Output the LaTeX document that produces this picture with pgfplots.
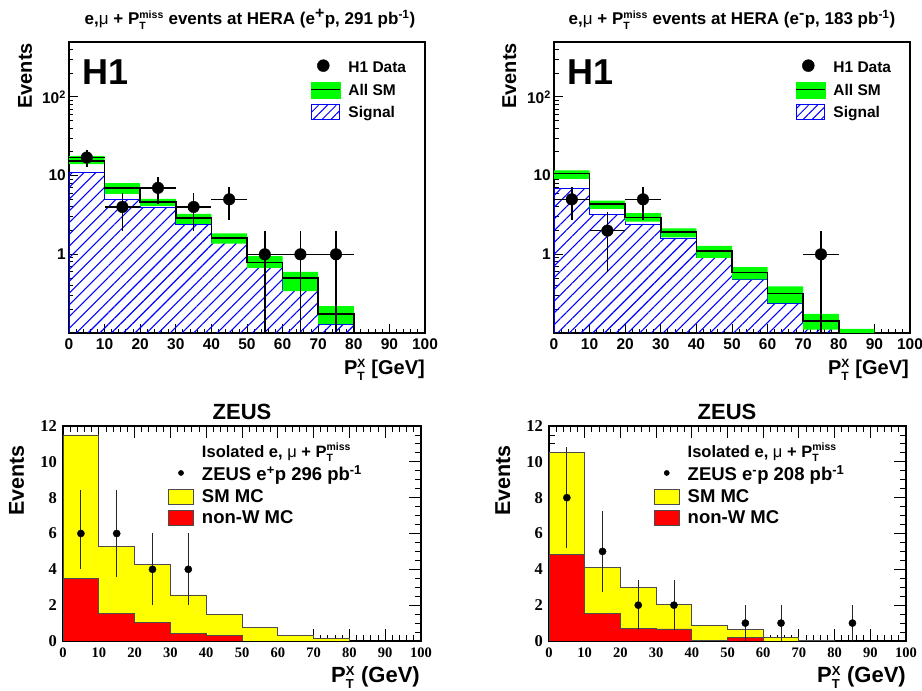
\documentclass[border=0pt]{standalone}
\usepackage{pgfplots}
\pgfplotsset{compat=1.18}
\usetikzlibrary{patterns.meta}
\usepackage{fontspec}
\setmainfont{Liberation Sans}
\newfontfamily\timesb{Liberation Serif}
\definecolor{hgreen}{RGB}{0,255,0}
\definecolor{zyellow}{RGB}{255,255,0}
\definecolor{zred}{RGB}{255,0,0}
\newcommand\fsz[1]{\fontsize{#1}{#1}\selectfont}
\newcommand\ms[3]{$^{\mbox{\fsz{#1}\bfseries #2}}_{\mbox{\fsz{#1}\bfseries #3}}$}
\begin{document}
\begin{tikzpicture}
\useasboundingbox (0,0) rectangle (922pt,691pt);
% ---------------- H1 e+p ----------------
\begin{axis}[scale only axis, width=356pt, height=291pt, anchor=south west, at={(69pt,358pt)},
    ymode=log, xmin=0, xmax=100, ymin=0.1, ymax=500,
    axis line style={line width=1.6pt},
    xtick={0,10,...,100}, minor x tick num=4,
    ytick={1,10,100}, yticklabels={1,10,10\textsuperscript{2}},
    minor ytick={0.2,0.3,0.4,0.5,0.6,0.7,0.8,0.9,2,3,4,5,6,7,8,9,20,30,40,50,60,70,80,90,200,300,400},
    xtick pos=bottom, ytick pos=left, tick align=inside,
    major tick length=9pt, minor tick length=4.5pt,
    tick style={black, line width=1pt},
    tick label style={font=\fsz{15.5}\bfseries},
    xticklabel style={inner sep=0pt, yshift=-5pt},
    yticklabel style={inner sep=0pt, xshift=-3pt},
    /pgf/number format/assume math mode=true,
    legend cell align=left,
    legend style={draw=none, fill=none, inner sep=0pt, anchor=north west,
      at={(axis description cs:0.677,0.9426)}, row sep=4.6pt, column sep=6pt,
      font=\fsz{15.5}\bfseries}]
\addplot[draw=blue, line width=1pt, pattern={Lines[angle=45,distance=8.3pt,line width=1.1pt]}, pattern color=blue, forget plot] coordinates {(0,0.01)(0,11.1)(10,11.1)(10,5.0)(20,5.0)(20,3.9)(30,3.9)(30,2.4)(40,2.4)(40,1.41)(50,1.41)(50,0.71)(60,0.71)(60,0.36)(70,0.36)(70,0.13)(80,0.13)(80,0.01)} -- cycle;
\addplot[fill=hgreen, draw=none, forget plot] coordinates {(0,17.9)(10,17.9)(10,8.06)(20,8.06)(20,5.07)(30,5.07)(30,3.26)(40,3.26)(40,1.84)(50,1.84)(50,0.95)(60,0.95)(60,0.6)(70,0.6)(70,0.22)(80,0.22)
 (80,0.13)(70,0.13)(70,0.34)(60,0.34)(60,0.675)(50,0.675)(50,1.37)(40,1.37)(40,2.43)(30,2.43)(30,4.09)(20,4.09)(20,5.88)(10,5.88)(10,14.0)(0,14.0)} -- cycle;
\addplot[black, line width=1.6pt, forget plot] coordinates {(0,15.4)(10,15.4)(10,6.95)(20,6.95)(20,4.6)(30,4.6)(30,2.9)(40,2.9)(40,1.6)(50,1.6)(50,0.79)(60,0.79)(60,0.5)(70,0.5)(70,0.174)(80,0.174)(80,0.01)};
\addplot[only marks, mark=*, mark size=5.8pt, black, forget plot,
    error bars/.cd, x dir=both, x explicit, y dir=both, y explicit,
    error bar style={line width=1.6pt, black}, error mark=none] coordinates {(5,17) +- (5,4.12) (15,4) +- (5,2) (25,7) +- (5,2.65) (35,4) +- (5,2) (45,5) +- (5,2.24)
 (55,1) += (5,1) -= (5,0.999) (65,1) += (5,1) -= (5,0.999) (75,1) += (5,1) -= (5,0.999)};
\addlegendimage{legend image code/.code={\path[draw=none, fill=none] (0pt,-8pt) rectangle (29pt,8pt); \fill[black] (12.5pt,2pt) circle (6pt);}}
\addlegendentry{\rule[-5pt]{0pt}{17pt}H1 Data}
\addlegendimage{legend image code/.code={\fill[hgreen] (0pt,-8pt) rectangle (29pt,8pt); \draw[black, line width=1.2pt] (0pt,0pt) -- (29pt,0pt);}}
\addlegendentry{\rule[-5pt]{0pt}{17pt}All SM}
\addlegendimage{legend image code/.code={\draw[blue, line width=1pt, pattern={Lines[angle=45,distance=6.3pt,line width=1pt]}, pattern color=blue] (0.5pt,-7.5pt) rectangle (28.5pt,7.5pt);}}
\addlegendentry{\rule[-5pt]{0pt}{17pt}Signal}
\end{axis}
% ---------------- H1 e-p ----------------
\begin{axis}[scale only axis, width=356pt, height=291pt, anchor=south west, at={(554pt,358pt)},
    ymode=log, xmin=0, xmax=100, ymin=0.1, ymax=500,
    axis line style={line width=1.6pt},
    xtick={0,10,...,100}, minor x tick num=4,
    ytick={1,10,100}, yticklabels={1,10,10\textsuperscript{2}},
    minor ytick={0.2,0.3,0.4,0.5,0.6,0.7,0.8,0.9,2,3,4,5,6,7,8,9,20,30,40,50,60,70,80,90,200,300,400},
    xtick pos=bottom, ytick pos=left, tick align=inside,
    major tick length=9pt, minor tick length=4.5pt,
    tick style={black, line width=1pt},
    tick label style={font=\fsz{15.5}\bfseries},
    xticklabel style={inner sep=0pt, yshift=-5pt},
    yticklabel style={inner sep=0pt, xshift=-3pt},
    /pgf/number format/assume math mode=true,
    legend cell align=left,
    legend style={draw=none, fill=none, inner sep=0pt, anchor=north west,
      at={(axis description cs:0.677,0.9426)}, row sep=4.6pt, column sep=6pt,
      font=\fsz{15.5}\bfseries}]
\addplot[draw=blue, line width=1pt, pattern={Lines[angle=45,distance=8.3pt,line width=1.1pt]}, pattern color=blue, forget plot] coordinates {(0,0.01)(0,6.8)(10,6.8)(10,3.2)(20,3.2)(20,2.4)(30,2.4)(30,1.59)(40,1.59)(40,0.92)(50,0.92)(50,0.48)(60,0.48)(60,0.24)(70,0.24)(70,0.115)(80,0.115)(80,0.01)} -- cycle;
\addplot[fill=hgreen, draw=none, forget plot] coordinates {(0,11.7)(10,11.7)(10,4.83)(20,4.83)(20,3.33)(30,3.33)(30,2.13)(40,2.13)(40,1.28)(50,1.28)(50,0.69)(60,0.69)(60,0.39)(70,0.39)(70,0.175)(80,0.175)(80,0.113)(90,0.113)
 (90,0.05)(80,0.05)(80,0.11)(70,0.11)(70,0.24)(60,0.24)(60,0.48)(50,0.48)(50,0.9)(40,0.9)(40,1.64)(30,1.64)(30,2.6)(20,2.6)(20,3.78)(10,3.78)(10,9.1)(0,9.1)} -- cycle;
\addplot[black, line width=1.6pt, forget plot] coordinates {(0,10.6)(10,10.6)(10,4.37)(20,4.37)(20,2.95)(30,2.95)(30,1.93)(40,1.93)(40,1.1)(50,1.1)(50,0.59)(60,0.59)(60,0.316)(70,0.316)(70,0.143)(80,0.143)(80,0.09)(90,0.09)(90,0.01)};
\addplot[only marks, mark=*, mark size=5.8pt, black, forget plot,
    error bars/.cd, x dir=both, x explicit, y dir=both, y explicit,
    error bar style={line width=1.6pt, black}, error mark=none] coordinates {(5,5) +- (5,2.24) (15,2) +- (5,1.41) (25,5) +- (5,2.24) (75,1) += (5,1) -= (5,0.999)};
\addlegendimage{legend image code/.code={\path[draw=none, fill=none] (0pt,-8pt) rectangle (29pt,8pt); \fill[black] (12.5pt,2pt) circle (6pt);}}
\addlegendentry{\rule[-5pt]{0pt}{17pt}H1 Data}
\addlegendimage{legend image code/.code={\fill[hgreen] (0pt,-8pt) rectangle (29pt,8pt); \draw[black, line width=1.2pt] (0pt,0pt) -- (29pt,0pt);}}
\addlegendentry{\rule[-5pt]{0pt}{17pt}All SM}
\addlegendimage{legend image code/.code={\draw[blue, line width=1pt, pattern={Lines[angle=45,distance=6.3pt,line width=1pt]}, pattern color=blue] (0.5pt,-7.5pt) rectangle (28.5pt,7.5pt);}}
\addlegendentry{\rule[-5pt]{0pt}{17pt}Signal}
\end{axis}
% ---------------- ZEUS e+p ----------------
\begin{axis}[scale only axis, width=358pt, height=215pt, anchor=south west, at={(63pt,50pt)},
    xmin=0, xmax=100, ymin=0, ymax=12,
    axis line style={line width=1.5pt},
    xtick={0,10,...,100}, minor x tick num=4,
    ytick={0,2,...,12}, minor y tick num=3,
    tick align=inside,
    tick style={black, line width=0.9pt},
    major tick length=12pt, minor tick length=6pt,
    xticklabel style={inner sep=0pt, yshift=-7pt, font=\timesb\fsz{14.5}\bfseries},
    yticklabel style={inner sep=0pt, xshift=-6pt, font=\timesb\fsz{16.5}\bfseries},
    /pgf/number format/assume math mode=true,
    legend cell align=left,
    legend style={draw=none, fill=none, inner sep=0pt, anchor=north west,
      at={(axis description cs:0.293,0.93)}, row sep=3pt, column sep=6pt,
      font=\fsz{18.5}\bfseries}]
\addplot[fill=zyellow, draw=black!70, line width=0.9pt, forget plot] coordinates {(0,0)(0,11.5)(10,11.5)(10,5.3)(20,5.3)(20,4.28)(30,4.28)(30,2.57)(40,2.57)(40,1.49)(50,1.49)(50,0.74)(60,0.74)(60,0.3)(70,0.3)(70,0.13)(80,0.13)(80,0)} -- cycle;
\addplot[fill=zred, draw=black!70, line width=0.9pt, forget plot] coordinates {(0,0)(0,3.48)(10,3.48)(10,1.55)(20,1.55)(20,1.04)(30,1.04)(30,0.43)(40,0.43)(40,0.32)(50,0.32)(50,0)} -- cycle;
\addplot[only marks, mark=*, mark size=3.6pt, black, forget plot,
    error bars/.cd, y dir=both, y explicit,
    error bar style={line width=0.9pt, black!85}, error mark=none] coordinates {(5,6) += (0,2.45) -= (0,2.0) (15,6) +- (0,2.45) (25,4) +- (0,2) (35,4) +- (0,2)};
\addlegendimage{legend image code/.code={\path[draw=none, fill=none] (0pt,-7.5pt) rectangle (25pt,7.5pt);}}
\addlegendentry{\rule[-5pt]{0pt}{15pt}\fsz{16.5}Isolated e, {\mdseries μ} + P\ms{10.5}{miss}{T}}
\addlegendimage{legend image code/.code={\path[draw=none, fill=none] (0pt,-7.5pt) rectangle (25pt,7.5pt); \fill[black] (12.5pt,1pt) circle (2.6pt);}}
\addlegendentry{\rule[-5pt]{0pt}{15pt}ZEUS e\textsuperscript{+}p 296 pb\textsuperscript{-1}}
\addlegendimage{legend image code/.code={\draw[fill=zyellow, draw=black!70, line width=0.9pt] (0pt,-7.5pt) rectangle (25pt,7.5pt);}}
\addlegendentry{\rule[-5pt]{0pt}{15pt}SM MC}
\addlegendimage{legend image code/.code={\draw[fill=zred, draw=black!70, line width=0.9pt] (0pt,-7.5pt) rectangle (25pt,7.5pt);}}
\addlegendentry{\rule[-5pt]{0pt}{15pt}non-W MC}
\end{axis}
% ---------------- ZEUS e-p ----------------
\begin{axis}[scale only axis, width=357pt, height=215pt, anchor=south west, at={(549pt,50pt)},
    xmin=0, xmax=100, ymin=0, ymax=12,
    axis line style={line width=1.5pt},
    xtick={0,10,...,100}, minor x tick num=4,
    ytick={0,2,...,12}, minor y tick num=3,
    tick align=inside,
    tick style={black, line width=0.9pt},
    major tick length=12pt, minor tick length=6pt,
    xticklabel style={inner sep=0pt, yshift=-7pt, font=\timesb\fsz{14.5}\bfseries},
    yticklabel style={inner sep=0pt, xshift=-6pt, font=\timesb\fsz{16.5}\bfseries},
    /pgf/number format/assume math mode=true,
    legend cell align=left,
    legend style={draw=none, fill=none, inner sep=0pt, anchor=north west,
      at={(axis description cs:0.293,0.93)}, row sep=3pt, column sep=6pt,
      font=\fsz{18.5}\bfseries}]
\addplot[fill=zyellow, draw=black!70, line width=0.9pt, forget plot] coordinates {(0,0)(0,10.53)(10,10.53)(10,4.11)(20,4.11)(20,2.98)(30,2.98)(30,2.06)(40,2.06)(40,0.87)(50,0.87)(50,0.65)(60,0.65)(60,0.2)(70,0.2)(70,0.05)(80,0.05)(80,0)} -- cycle;
\addplot[fill=zred, draw=black!70, line width=0.9pt, forget plot] coordinates {(0,0)(0,4.84)(10,4.84)(10,1.55)(20,1.55)(20,0.71)(30,0.71)(30,0.67)(40,0.67)(40,0.03)(50,0.03)(50,0.2)(60,0.2)(60,0)} -- cycle;
\addplot[only marks, mark=*, mark size=3.6pt, black, forget plot,
    error bars/.cd, y dir=both, y explicit,
    error bar style={line width=0.9pt, black!85}, error mark=none] coordinates {(5,8) +- (0,2.83) (15,5) +- (0,2.24) (25,2) +- (0,1.41) (35,2) +- (0,1.41) (55,1) +- (0,1) (65,1) +- (0,1) (85,1) +- (0,1)};
\addlegendimage{legend image code/.code={\path[draw=none, fill=none] (0pt,-7.5pt) rectangle (25pt,7.5pt);}}
\addlegendentry{\rule[-5pt]{0pt}{15pt}\fsz{16.5}Isolated e, {\mdseries μ} + P\ms{10.5}{miss}{T}}
\addlegendimage{legend image code/.code={\path[draw=none, fill=none] (0pt,-7.5pt) rectangle (25pt,7.5pt); \fill[black] (12.5pt,1pt) circle (2.6pt);}}
\addlegendentry{\rule[-5pt]{0pt}{15pt}ZEUS e\textsuperscript{-}p 208 pb\textsuperscript{-1}}
\addlegendimage{legend image code/.code={\draw[fill=zyellow, draw=black!70, line width=0.9pt] (0pt,-7.5pt) rectangle (25pt,7.5pt);}}
\addlegendentry{\rule[-5pt]{0pt}{15pt}SM MC}
\addlegendimage{legend image code/.code={\draw[fill=zred, draw=black!70, line width=0.9pt] (0pt,-7.5pt) rectangle (25pt,7.5pt);}}
\addlegendentry{\rule[-5pt]{0pt}{15pt}non-W MC}
\end{axis}
% ---------------- texts ----------------
\node[anchor=base, inner sep=0pt, font=\fsz{17}\bfseries] at (250pt,666pt) {e,{\mdseries μ} + P\ms{10.5}{miss}{T} events at HERA (e\textsuperscript{\fsz{16}+}p, 291 pb\textsuperscript{-1})};
\node[anchor=base, inner sep=0pt, font=\fsz{17}\bfseries] at (732pt,666pt) {e,{\mdseries μ} + P\ms{10.5}{miss}{T} events at HERA (e\textsuperscript{\fsz{16}-}p, 183 pb\textsuperscript{-1})};
\node[anchor=base west, inner sep=0pt, font=\fsz{36}\bfseries] at (82pt,606pt) {H1};
\node[anchor=base west, inner sep=0pt, font=\fsz{36}\bfseries] at (567pt,606pt) {H1};
\node[rotate=90, anchor=base east, inner sep=0pt, font=\fsz{20}\bfseries] at (32pt,648pt) {Events};
\node[rotate=90, anchor=base east, inner sep=0pt, font=\fsz{20}\bfseries] at (516pt,648pt) {Events};
\node[anchor=base east, inner sep=0pt, font=\fsz{20}\bfseries] at (425pt,316pt) {P\ms{12}{X}{T} [GeV]};
\node[anchor=base east, inner sep=0pt, font=\fsz{20}\bfseries] at (909pt,316pt) {P\ms{12}{X}{T} [GeV]};
\node[anchor=base, inner sep=0pt, font=\fsz{22}\bfseries] at (242pt,271pt) {ZEUS};
\node[anchor=base, inner sep=0pt, font=\fsz{22}\bfseries] at (727pt,271pt) {ZEUS};
\node[rotate=90, anchor=base east, inner sep=0pt, font=\fsz{21.5}\bfseries] at (24pt,246pt) {Events};
\node[rotate=90, anchor=base east, inner sep=0pt, font=\fsz{21.5}\bfseries] at (510pt,246pt) {Events};
\node[anchor=base east, inner sep=0pt, font=\fsz{22}\bfseries] at (420pt,8pt) {P\ms{13}{X}{T} (GeV)};
\node[anchor=base east, inner sep=0pt, font=\fsz{22}\bfseries] at (906pt,8pt) {P\ms{13}{X}{T} (GeV)};
\end{tikzpicture}
\end{document}
